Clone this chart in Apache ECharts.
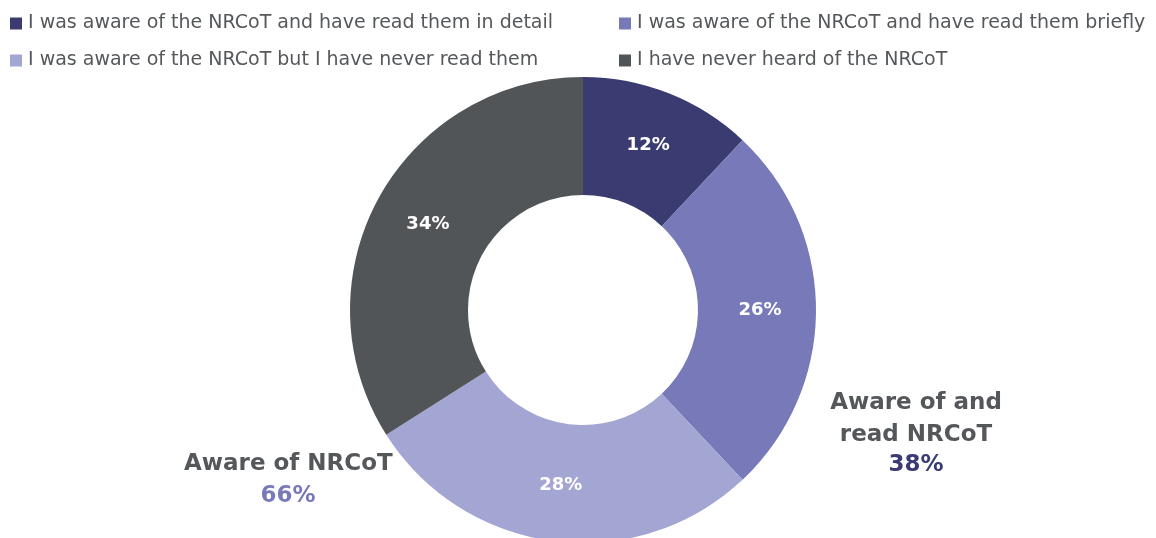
<!DOCTYPE html>
<html><head><meta charset="utf-8">
<script src="https://cdn.jsdelivr.net/npm/echarts@6/dist/echarts.min.js"></script>
<style>html,body{margin:0;padding:0;background:#fff}#c{width:1156px;height:538px}</style>
</head><body><div id="c"></div>
<script>
const categories = [
  "I was aware of the NRCoT and have read them in detail",
  "I was aware of the NRCoT and have read them briefly",
  "I was aware of the NRCoT but I have never read them",
  "I have never heard of the NRCoT"
];
const values = [12, 26, 28, 34];
const colors = ["#393B71", "#7779B8", "#A3A5D2", "#525558"];
const groupLabels = ["Aware of NRCoT", "Aware of and\nread NRCoT"];
const groupValues = ["66%", "38%"];

const chart = echarts.init(document.getElementById('c'));
const font = "DejaVu Sans";
const legendBase = {
  orient: 'vertical', itemWidth: 12, itemHeight: 12, itemGap: 18, icon: 'rect',
  textStyle: { fontFamily: font, fontSize: 19, color: '#55585B', padding: [0,0,0,1] },
  top: 9, selectedMode: false
};
chart.setOption({
  animation: false,
  color: colors,
  legend: [
    Object.assign({}, legendBase, { left: 5, data: [categories[0], categories[2]] }),
    Object.assign({}, legendBase, { left: 614, data: [categories[1], categories[3]] })
  ],
  series: [{
    type: 'pie',
    center: [583, 310],
    radius: [115, 233],
    startAngle: 90,
    clockwise: true,
    label: {
      position: 'inside', formatter: '{c}%', color: '#fff',
      fontFamily: font, fontSize: 18, fontWeight: 'bold'
    },
    labelLine: { show: false },
    itemStyle: { borderWidth: 0 },
    emphasis: { disabled: true },
    data: categories.map((n, i) => ({ name: n, value: values[i], itemStyle: { color: colors[i] } }))
  }],
  graphic: [
    { type: 'text', left: 184, top: 453, style: { text: groupLabels[0], font: 'bold 23px "DejaVu Sans"', fill: '#55585B' } },
    { type: 'text', x: 288, y: 485, style: { text: groupValues[0], font: 'bold 23px "DejaVu Sans"', fill: colors[1], align: 'center' } },
    { type: 'text', x: 916, y: 387, style: { text: groupLabels[1], font: 'bold 23px "DejaVu Sans"', fill: '#55585B', align: 'center', lineHeight: 32 } },
    { type: 'text', x: 916, y: 454, style: { text: groupValues[1], font: 'bold 23px "DejaVu Sans"', fill: colors[0], align: 'center' } }
  ]
});
</script></body></html>
